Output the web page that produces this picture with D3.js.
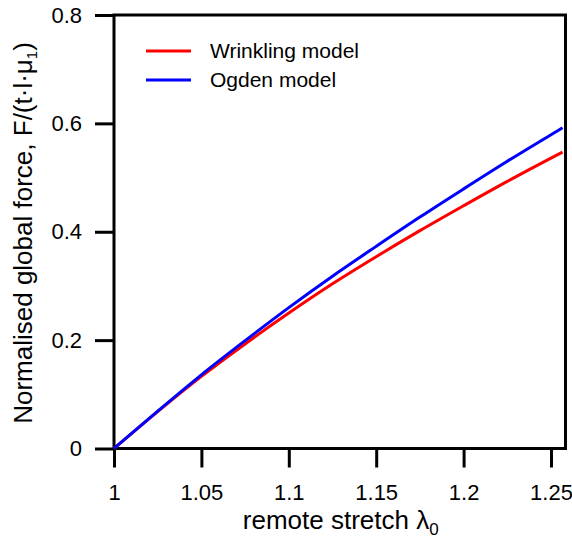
<!DOCTYPE html>
<html>
<head>
<meta charset="utf-8">
<script src="https://cdn.jsdelivr.net/npm/d3@7"></script>
<style>
  html, body { margin: 0; padding: 0; background: #fff; }
  svg { display: block; font-family: "Liberation Sans", Arial, sans-serif; }
</style>
</head>
<body>
<svg id="chart" width="572" height="540"></svg>
<script>
// ---- data ----
const stretch = [1.000, 1.025, 1.050, 1.075, 1.100, 1.125, 1.150, 1.175, 1.200, 1.225, 1.250, 1.2566];
const wrinklingForce = [0, 0.068, 0.133, 0.193, 0.250, 0.304, 0.354, 0.402, 0.448, 0.493, 0.536, 0.547];
const ogdenForce     = [0, 0.069, 0.136, 0.199, 0.260, 0.318, 0.373, 0.427, 0.479, 0.530, 0.579, 0.592];
const seriesNames = ["Wrinkling model", "Ogden model"];
const seriesColors = ["#ff0000", "#0000ff"];
const xTickValues = [1, 1.05, 1.1, 1.15, 1.2, 1.25];
const xTickLabels = ["1", "1.05", "1.1", "1.15", "1.2", "1.25"];
const yTickValues = [0, 0.2, 0.4, 0.6, 0.8];
const yTickLabels = ["0", "0.2", "0.4", "0.6", "0.8"];
const xDomain = [1, 1.2583];
const yDomain = [0, 0.8];

// ---- layout ----
const svg = d3.select("#chart");
const mLeft = 114, mRight = 565.5, mTop = 15, mBottom = 448.5;

const x = d3.scaleLinear().domain(xDomain).range([mLeft, mRight]);
const y = d3.scaleLinear().domain(yDomain).range([mBottom, mTop]);

// axes
const xAxis = d3.axisBottom(x)
  .tickValues(xTickValues)
  .tickFormat((d, i) => xTickLabels[i])
  .tickSize(19).tickPadding(17);
const yAxis = d3.axisLeft(y)
  .tickValues(yTickValues)
  .tickFormat((d, i) => yTickLabels[i])
  .tickSize(19).tickPadding(13);

const gx = svg.append("g").attr("transform", `translate(0,${mBottom})`).call(xAxis);
const gy = svg.append("g").attr("transform", `translate(${mLeft},0)`).call(yAxis);
[gx, gy].forEach(g => {
  g.select(".domain").remove();
  g.selectAll(".tick line").attr("stroke", "#000").attr("stroke-width", 3);
  g.selectAll(".tick text").attr("fill", "#000").style("font-size", "22px")
    .style("font-family", '"Liberation Sans", Arial, sans-serif');
});

// frame
svg.append("rect")
  .attr("x", mLeft).attr("y", mTop)
  .attr("width", mRight - mLeft).attr("height", mBottom - mTop)
  .attr("fill", "none").attr("stroke", "#000").attr("stroke-width", 3);

// curves
const line = d3.line().curve(d3.curveMonotoneX).x(d => x(d[0])).y(d => y(d[1]));
const series = [wrinklingForce, ogdenForce];
series.forEach((vals, i) => {
  svg.append("path")
    .datum(stretch.map((s, j) => [s, vals[j]]))
    .attr("fill", "none")
    .attr("stroke", seriesColors[i])
    .attr("stroke-width", 3)
    .attr("d", line);
});

// legend
const legend = svg.append("g");
seriesNames.forEach((name, i) => {
  const ly = 51 + i * 29;
  legend.append("line")
    .attr("x1", 146).attr("x2", 191).attr("y1", ly).attr("y2", ly)
    .attr("stroke", seriesColors[i]).attr("stroke-width", 3);
  legend.append("text")
    .attr("x", 210).attr("y", ly).attr("dy", "0.35em")
    .style("font-size", "21px").attr("fill", "#000")
    .text(name);
});

// x title
const xt = svg.append("text")
  .attr("x", (mLeft + mRight) / 2 + 1).attr("y", 529)
  .attr("text-anchor", "middle")
  .style("font-size", "26px").attr("fill", "#000");
xt.append("tspan").text("remote stretch λ");
xt.append("tspan").attr("dy", 6).style("font-size", "17px").text("0");

// y title
const yt = svg.append("text")
  .attr("transform", `translate(32,233) rotate(-90)`)
  .attr("text-anchor", "middle")
  .style("font-size", "26px").attr("fill", "#000");
yt.append("tspan").text("Normalised global force, F/(t·l·μ");
yt.append("tspan").attr("dy", 5).style("font-size", "15px").text("1");
yt.append("tspan").attr("dy", -5).text(")");
</script>
</body>
</html>
